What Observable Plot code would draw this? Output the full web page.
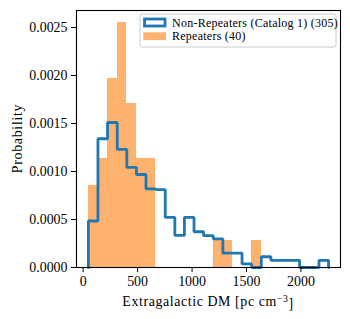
<!DOCTYPE html>
<html><head><meta charset="utf-8">
<script src="https://cdn.jsdelivr.net/npm/d3@7"></script>
<script src="https://cdn.jsdelivr.net/npm/@observablehq/plot@0.6"></script>
<style>
body{margin:0;background:#fff;}
#chart{position:relative;width:350px;height:319px;}
svg{overflow:visible;}
</style></head><body><div id="chart"></div>
<script>
// Shared histogram bin edges (Extragalactic DM, pc cm^-3)
const binEdges = [48, 136, 224, 313, 401, 489, 577, 665, 754, 842, 930, 1018, 1106, 1195, 1283, 1371, 1459, 1547, 1636, 1724, 1812, 1900, 1988, 2077, 2165, 2253];
// Counts per bin
const nonRepeaterCounts = [13, 36, 41, 33, 28, 26, 22, 22, 14, 9, 14, 10, 9, 8, 4, 4, 1, 0, 3, 2, 2, 2, 0, 0, 2];
const repeaterCounts    = [3, 4, 7, 9, 6, 4, 4, 0, 0, 0, 0, 0, 0, 1, 1, 0, 0, 1, 0, 0, 0, 0, 0, 0, 0];
const nonRepeaterTotal = 305;
const repeaterTotal = 40;
const seriesNames = ["Non-Repeaters (Catalog 1) (305)", "Repeaters (40)"];
const xTicks = [0, 500, 1000, 1500, 2000];
const yTicks = [0, 0.0005, 0.0010, 0.0015, 0.0020, 0.0025];
const yLabel = "Probability";

const blue = "#1f77b4";
const orange = "#ff7f0e";
const W = 350, H = 319, mL = 76, mR = 10, mT = 10, mB = 52;
const font = "'Liberation Serif', 'DejaVu Serif', serif";

const bins = nonRepeaterCounts.map((c, i) => {
  const w = binEdges[i + 1] - binEdges[i];
  return {x1: binEdges[i], x2: binEdges[i + 1],
          nr: c / (nonRepeaterTotal * w),
          r: repeaterCounts[i] / (repeaterTotal * w)};
});
const stepPts = [{x: binEdges[0], y: 0}];
bins.forEach(b => { stepPts.push({x: b.x1, y: b.nr}); stepPts.push({x: b.x2, y: b.nr}); });
stepPts.push({x: binEdges[binEdges.length - 1], y: 0});

const chart = Plot.plot({
  width: W, height: H,
  marginLeft: mL, marginRight: mR, marginTop: mT, marginBottom: mB,
  style: {fontFamily: font, fontSize: "13.9px", color: "#000", background: "#fff"},
  x: {domain: [-61, 2363]},
  y: {domain: [0, 0.002677]},
  marks: [
    Plot.rectY(bins.filter(b => b.r > 0), {x1: "x1", x2: "x2", y: "r", fill: orange, fillOpacity: 0.6, insetLeft: 0, insetRight: 0, shapeRendering: "crispEdges"}),
    Plot.line(stepPts, {x: "x", y: "y", stroke: blue, strokeWidth: 2.8, strokeLinejoin: "miter", curve: "linear"}),
    Plot.axisX({ticks: xTicks, tickSize: 5, tickPadding: 4, label: null, tickFormat: d => String(d)}),
    Plot.axisY({ticks: yTicks, tickSize: 5, tickPadding: 4, tickFormat: d3.format(".4f"), label: null}),
    Plot.frame({stroke: "#000", strokeWidth: 1.1})
  ]
});
document.getElementById("chart").appendChild(chart);

const svg = d3.select(chart);
// y-axis label
svg.append("text")
  .attr("transform", `translate(17,${mT + (H - mT - mB) / 2}) rotate(-90)`)
  .attr("text-anchor", "middle")
  .attr("dominant-baseline", "central")
  .attr("font-family", font)
  .attr("font-size", "13.9px")
  .attr("letter-spacing", "0.7px")
  .attr("fill", "#000")
  .text(yLabel);
// x-axis label with superscript
const xl = svg.append("text")
  .attr("x", mL + (W - mL - mR) / 2)
  .attr("y", 306)
  .attr("text-anchor", "middle")
  .attr("font-family", font)
  .attr("font-size", "13.9px")
  .attr("letter-spacing", "0.6px")
  .attr("fill", "#000");
xl.append("tspan").text("Extragalactic DM [pc cm");
xl.append("tspan").attr("dy", "-0.45em").attr("font-size", "9.7px").text("−3");
xl.append("tspan").attr("dy", "0.45em").text("]");

// Legend
const lg = svg.append("g").attr("font-family", font).attr("font-size", "12px").attr("letter-spacing", "0.25px").attr("text-anchor", "start");
lg.append("rect").attr("x", 140).attr("y", 14).attr("width", 196).attr("height", 33)
  .attr("rx", 2).attr("fill", "#fff").attr("fill-opacity", 0.8).attr("stroke", "#cccccc").attr("stroke-width", 1);
lg.append("rect").attr("x", 144.5).attr("y", 19).attr("width", 20.5).attr("height", 7)
  .attr("fill", "none").attr("stroke", blue).attr("stroke-width", 2.8).attr("stroke-linejoin", "miter");
lg.append("rect").attr("x", 143.3).attr("y", 32.3).attr("width", 22.7).attr("height", 7.8)
  .attr("fill", orange).attr("fill-opacity", 0.6);
lg.append("text").attr("x", 172).attr("y", 26.8).attr("fill", "#000").text(seriesNames[0]);
lg.append("text").attr("x", 172).attr("y", 40.3).attr("fill", "#000").text(seriesNames[1]);
</script></body></html>
